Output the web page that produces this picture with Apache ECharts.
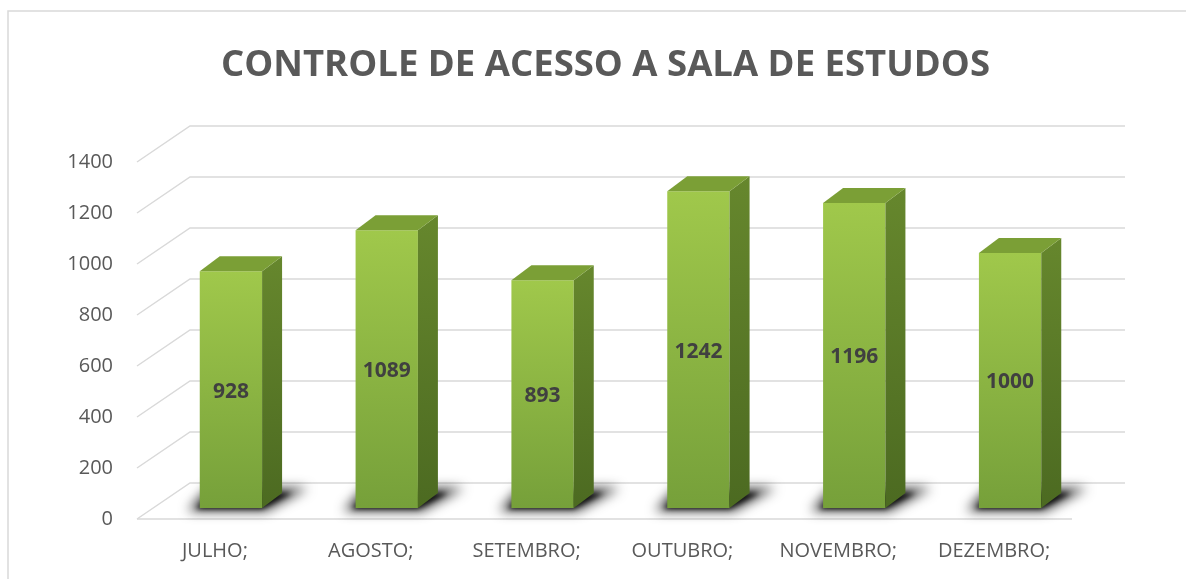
<!DOCTYPE html>
<html lang="pt">
<head>
    <meta charset="UTF-8">
    <title>Controle de acesso</title>
    <script src="https://cdn.jsdelivr.net/npm/echarts@6/dist/echarts.min.js"></script>
    <style>
        html, body { margin: 0; padding: 0; background: #fff; }
        #box { width: 1186px; height: 579px; }
    </style>
</head>
<body>
<div id="box"></div>
<script>
    var meses = ['JULHO;', 'AGOSTO;', 'SETEMBRO;', 'OUTUBRO;', 'NOVEMBRO;', 'DEZEMBRO;'];
    var acessos = [928, 1089, 893, 1242, 1196, 1000];
    var ticks = [0, 200, 400, 600, 800, 1000, 1200, 1400];

    // depth of the floor / wall (oblique), and of the bars
    var fundo = [53, -36];
    var frente = [16, -11];
    var prof = [20, -15];
    var LONGE = 3000; // shadow drawn off-screen, only its blur is shifted back

    var mychart = echarts.init(document.getElementById('box'));

    var frenteCor = new echarts.graphic.LinearGradient(0, 0, 0, 1, [
        {offset: 0, color: '#a0c84b'},
        {offset: 1, color: '#76a03a'}
    ]);
    var ladoCor = new echarts.graphic.LinearGradient(0, 0, 0, 1, [
        {offset: 0, color: '#66872d'},
        {offset: 1, color: '#4c6a21'}
    ]);

    function grade(params, api) {
        var cs = params.coordSys;
        var y = api.coord([0, api.value(0)])[1];
        var x0 = cs.x, x1 = cs.x + cs.width;
        var linha = {stroke: '#d9d9d9', lineWidth: 1.5, fill: null};
        var filhos = [{
            type: 'polyline',
            shape: {points: [[x0, y], [x0 + fundo[0], y + fundo[1]], [x1 + fundo[0], y + fundo[1]]]},
            style: linha
        }];
        if (api.value(0) === 0) {
            filhos.push({type: 'line', shape: {x1: x0, y1: y, x2: x1, y2: y}, style: linha});
        }
        return {type: 'group', children: filhos};
    }

    function sombra(pts, blur, cor) {
        return {
            type: 'polygon',
            shape: {points: pts.map(function (p) { return [p[0] - LONGE, p[1]]; })},
            style: {fill: '#000', shadowBlur: blur, shadowColor: cor, shadowOffsetX: LONGE}
        };
    }

    function barra(params, api) {
        var i = api.value(0), v = api.value(1);
        var base = api.coord([i, 0]);
        var topo = api.coord([i, v]);
        var w = api.size([1, 0])[0] * 0.4;
        var xl = base[0] + frente[0] - w / 2, xr = xl + w;
        var yb = base[1] + frente[1], yt = topo[1] + frente[1];
        return {
            type: 'group',
            children: [
                sombra([[xl - 12, yb + 3], [xr + 4, yb + 3], [xr + prof[0] + 26, yb - 20], [xl + 8, yb - 20]], 12, 'rgba(0,0,0,0.75)'),
                sombra([[xl - 4, yb + 1], [xr, yb + 1], [xr + prof[0] + 10, yb + prof[1]], [xl + 12, yb + prof[1]]], 5, 'rgba(0,0,0,0.8)'),
                {
                    type: 'rect',
                    shape: {x: xl, y: yt, width: w, height: yb - yt},
                    style: {fill: frenteCor}
                },
                {
                    type: 'polygon',
                    shape: {points: [[xr, yt], [xr + prof[0], yt + prof[1]], [xr + prof[0], yb + prof[1]], [xr, yb]]},
                    style: {fill: ladoCor}
                },
                {
                    type: 'polygon',
                    shape: {points: [[xl, yt], [xr, yt], [xr + prof[0], yt + prof[1]], [xl + prof[0], yt + prof[1]]]},
                    style: {fill: '#7b9f36'}
                },
                {
                    type: 'text',
                    style: {
                        text: String(v), x: (xl + xr) / 2, y: (yt + yb) / 2 + 2,
                        align: 'center', verticalAlign: 'middle',
                        font: 'bold 21px "Open Sans"', fill: '#404040'
                    }
                }
            ]
        };
    }

    var option = {
        animation: false,
        title: {
            text: 'CONTROLE DE ACESSO A SALA DE ESTUDOS',
            left: 221,
            top: 47,
            padding: 0,
            textStyle: {fontFamily: 'Open Sans', fontWeight: 'bold', fontSize: 36.5, color: '#595959'}
        },
        graphic: [{
            type: 'rect',
            shape: {x: 8, y: 11, width: 1200, height: 600},
            style: {fill: null, stroke: '#d9d9d9', lineWidth: 1.5},
            silent: true
        }],
        grid: {left: 137, right: 114, top: 162, bottom: 60},
        xAxis: {
            type: 'category',
            data: meses,
            axisLine: {show: false},
            axisTick: {show: false},
            axisLabel: {color: '#595959', fontFamily: 'Open Sans', fontSize: 20, margin: 22}
        },
        yAxis: {
            type: 'value',
            min: 0,
            max: 1400,
            interval: 200,
            splitLine: {show: false},
            axisLine: {show: false},
            axisTick: {show: false},
            axisLabel: {
                color: '#595959', fontFamily: 'Open Sans', fontSize: 20, margin: 24,
                formatter: function (v) { return String(v); }
            }
        },
        series: [
            {
                type: 'custom',
                renderItem: grade,
                data: ticks,
                encode: {y: 0},
                silent: true,
                z: 1
            },
            {
                type: 'custom',
                renderItem: barra,
                data: acessos.map(function (v, i) { return [i, v]; }),
                encode: {x: 0, y: 1},
                z: 2
            }
        ]
    };
    mychart.setOption(option);
</script>
</body>
</html>
